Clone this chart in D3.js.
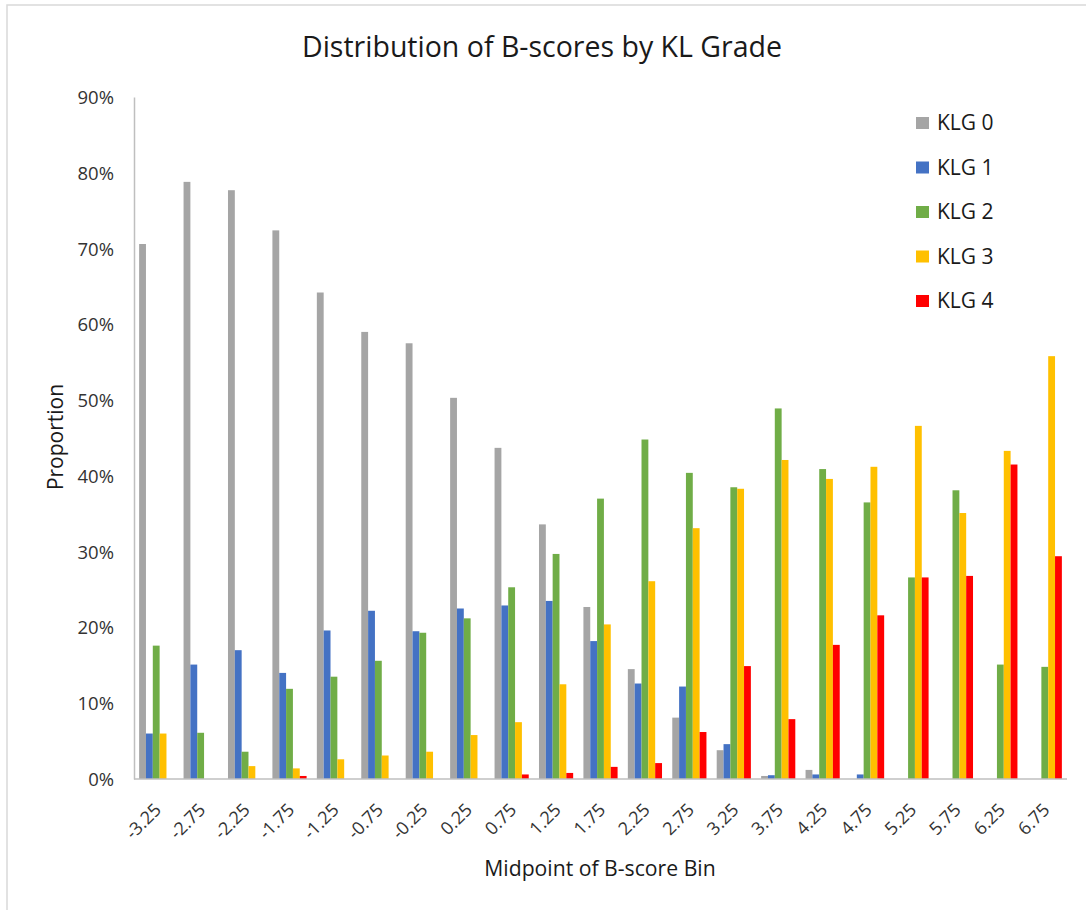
<!DOCTYPE html>
<html>
<head>
<meta charset="utf-8">
<script src="https://cdn.jsdelivr.net/npm/d3@7/dist/d3.min.js"></script>
<style>
  html, body { margin: 0; padding: 0; background: #fff; }
  text { font-family: "Open Sans", "Liberation Sans", sans-serif; }
</style>
</head>
<body>
<svg id="chart" width="1086" height="910"></svg>
<script>
const categories = ["-3.25","-2.75","-2.25","-1.75","-1.25","-0.75","-0.25","0.25","0.75","1.25","1.75","2.25","2.75","3.25","3.75","4.25","4.75","5.25","5.75","6.25","6.75"];
const seriesNames = ["KLG 0","KLG 1","KLG 2","KLG 3","KLG 4"];
const klg0 = [70.6,78.8,77.7,72.4,64.2,59.0,57.5,50.3,43.7,33.6,22.7,14.5,8.1,3.8,0.4,1.2,0,0,0,0,0];
const klg1 = [6.0,15.1,17.0,14.0,19.6,22.2,19.5,22.5,22.9,23.5,18.2,12.6,12.2,4.6,0.5,0.6,0.6,0,0,0,0];
const klg2 = [17.6,6.1,3.6,11.9,13.5,15.6,19.3,21.2,25.3,29.7,37.0,44.8,40.4,38.5,48.9,40.9,36.5,26.6,38.1,15.1,14.8];
const klg3 = [6.0,0,1.7,1.4,2.6,3.1,3.6,5.8,7.5,12.5,20.4,26.1,33.1,38.3,42.1,39.6,41.2,46.6,35.1,43.3,55.8];
const klg4 = [0,0,0,0.4,0,0,0,0,0.6,0.8,1.6,2.1,6.2,14.9,7.9,17.7,21.6,26.6,26.8,41.5,29.4];
const yTicks = [0,10,20,30,40,50,60,70,80,90];
const colors = ["#a5a5a5","#4472c4","#70ad47","#ffc000","#ff0000"];

const series = [klg0, klg1, klg2, klg3, klg4];
const svg = d3.select("#chart");

// chart border
svg.append("rect").attr("x", 7).attr("y", 5).attr("width", 1100).attr("height", 920)
  .attr("fill", "none").attr("stroke", "#d9d9d9").attr("stroke-width", 1.5);

const plotLeft = 134, plotRight = 1067, plotTop = 97, plotBottom = 779;

const x0 = d3.scaleBand().domain(categories).range([plotLeft, plotRight]).paddingInner(1.5/6.5).paddingOuter(0.75/6.5);
const x1 = d3.scaleBand().domain(seriesNames).range([0, x0.bandwidth()]);
const y = d3.scaleLinear().domain([0, 90]).range([plotBottom, plotTop]);

// bars
const groups = svg.append("g").selectAll("g").data(categories).join("g")
  .attr("transform", d => `translate(${x0(d)},0)`);
groups.selectAll("rect")
  .data((c, i) => series.map((s, k) => ({ name: seriesNames[k], v: s[i], k })))
  .join("rect")
  .attr("x", d => x1(d.name))
  .attr("width", x1.bandwidth())
  .attr("y", d => y(d.v))
  .attr("height", d => plotBottom - y(d.v))
  .attr("fill", d => colors[d.k]);

// y axis
const yAxis = d3.axisLeft(y).tickValues(yTicks).tickFormat(d => d + "%").tickSize(0).tickPadding(20);
const gy = svg.append("g").attr("transform", `translate(${plotLeft},0)`).call(yAxis);
gy.select(".domain").attr("stroke", "#bfbfbf").attr("stroke-width", 1.5);
gy.selectAll("text").attr("font-size", 18.5).attr("fill", "#333").attr("dy", "0.35em");

// x axis
const xAxis = d3.axisBottom(x0).tickSize(0).tickFormat(d => d);
const gx = svg.append("g").attr("transform", `translate(0,${plotBottom})`).call(xAxis);
gx.select(".domain").attr("stroke", "#bfbfbf").attr("stroke-width", 1.5).attr("d", `M${plotLeft},0H${plotRight}`);
gx.selectAll(".tick text")
  .attr("font-size", 18).attr("fill", "#333")
  .attr("text-anchor", "end").attr("dy", 0).attr("y", 0)
  .attr("transform", "translate(6,32) rotate(-45)");

// title
svg.append("text").attr("x", 542).attr("y", 57).attr("text-anchor", "middle")
  .attr("font-size", 28.5).attr("fill", "#1a1a1a").text("Distribution of B-scores by KL Grade");

// axis titles
svg.append("text").attr("x", 600).attr("y", 876).attr("text-anchor", "middle")
  .attr("font-size", 21.2).attr("fill", "#1a1a1a").text("Midpoint of B-score Bin");
svg.append("text").attr("transform", "translate(63,437) rotate(-90)").attr("text-anchor", "middle")
  .attr("font-size", 21).attr("fill", "#1a1a1a").text("Proportion");

// legend
const legend = svg.append("g").selectAll("g").data(seriesNames).join("g")
  .attr("transform", (d, i) => `translate(916,${123 + i * 44.5})`);
legend.append("rect").attr("x", 0).attr("y", -6).attr("width", 13).attr("height", 12)
  .attr("fill", (d, i) => colors[i]);
legend.append("text").attr("x", 21).attr("y", 0).attr("dy", "0.35em")
  .attr("font-size", 21).attr("fill", "#1a1a1a").text(d => d);
</script>
</body>
</html>
